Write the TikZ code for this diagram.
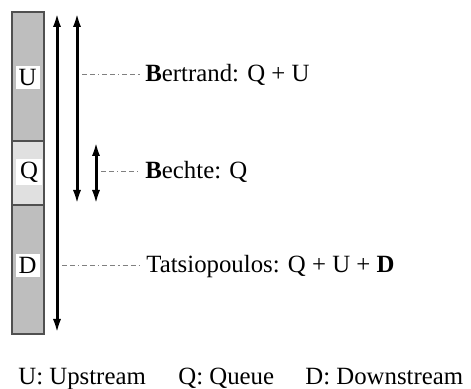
\documentclass[tikz,border=0pt]{standalone}
\usepackage{fontspec}
\setmainfont{Liberation Serif}
\usetikzlibrary{arrows.meta}
\definecolor{barDark}{HTML}{BEBEBE}
\definecolor{barLight}{HTML}{E0E0E0}
\definecolor{edgeGray}{HTML}{505050}
\begin{document}
\begin{tikzpicture}[x=0.5pt,y=-0.5pt,
  every node/.style={font=\fontsize{12.4}{14}\selectfont},
  segbox/.style={draw=edgeGray, line width=0.6pt},
  letterbox/.style={fill=white, inner sep=0pt, minimum width=12pt, minimum height=11.5pt},
  spanarrow/.style={line width=1.5pt, {Latex[length=7.5pt,width=4pt]}-{Latex[length=7.5pt,width=4pt]}},
  leader/.style={draw=gray, line width=0.5pt, dash pattern=on 2.5pt off 1.5pt on 2.5pt off 1.5pt on 0.6pt off 1.5pt},
  label/.style={anchor=base west, inner sep=0pt}]
\useasboundingbox (0,0) rectangle (471,389);
% bar segments
\filldraw[segbox, fill=barDark] (12,12) rectangle (44,141);
\filldraw[segbox, fill=barLight] (12,141) rectangle (44,205);
\filldraw[segbox, fill=barDark] (12,205) rectangle (44,334);
\node[letterbox] (U) at (27.5,77.5) {U};
\node[letterbox, minimum width=13pt, minimum height=13pt] (Q) at (29,172) {Q};
\node[letterbox] (D) at (27.5,265.5) {D};
% arrows
\coordinate (t1) at (57,12);  \coordinate (b1) at (57,334);
\coordinate (t2) at (77,12);  \coordinate (b2) at (77,205);
\coordinate (t3) at (96,141); \coordinate (b3) at (96,205);
\draw[spanarrow] (t1) -- (b1);
\draw[spanarrow] (t2) -- (b2);
\draw[spanarrow] (t3) -- (b3);
% labels
\node[label] (bert) at (145,82) {\textbf{B}ertrand: Q + U};
\node[label] (bech) at (145,179) {\textbf{B}echte: Q};
\node[label] (tats) at (146,273) {Tatsiopoulos: Q + U + \textbf{D}};
\coordinate (l1a) at (82,75);  \coordinate (l1b) at (140,75);
\coordinate (l2a) at (101,172); \coordinate (l2b) at (139,172);
\coordinate (l3a) at (62,266); \coordinate (l3b) at (140,266);
\draw[leader] (l1a) -- (l1b);
\draw[leader] (l2a) -- (l2b);
\draw[leader] (l3a) -- (l3b);
% legend
\node[label] (lu) at (18,385) {U: Upstream};
\node[label] (lq) at (178,385) {Q: Queue};
\node[label] (ld) at (305,385) {D: Downstream};
\end{tikzpicture}
\end{document}
